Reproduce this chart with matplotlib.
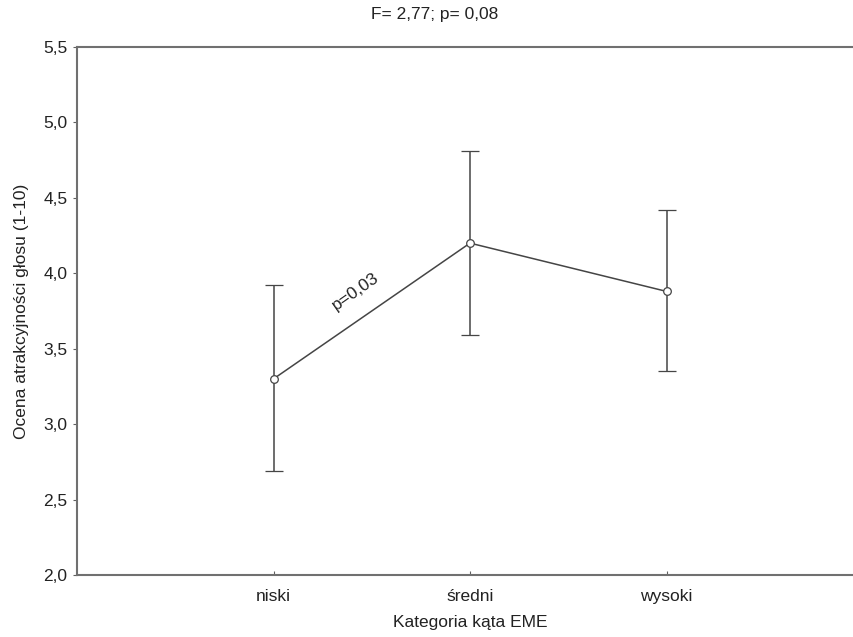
import matplotlib
matplotlib.use("Agg")
import matplotlib.pyplot as plt
import numpy as np

categories = ["niski", "średni", "wysoki"]
means = [3.30, 4.20, 3.88]
upper = [3.92, 4.81, 4.42]
lower = [2.69, 3.59, 3.35]
y_ticks = [2.0, 2.5, 3.0, 3.5, 4.0, 4.5, 5.0, 5.5]

plt.rcParams["font.family"] = ["Liberation Sans", "DejaVu Sans"]

fig = plt.figure(figsize=(8.54, 6.37), dpi=100)
ax = fig.add_axes([77 / 854, 62 / 637, 786 / 854, 528 / 637])

x = np.arange(1, len(categories) + 1)
m = np.array(means)
yerr = [m - np.array(lower), np.array(upper) - m]
ax.errorbar(x, m, yerr=yerr, color="#454545", lw=1.1, elinewidth=1.1,
            capsize=6.5, capthick=1.1, marker="o", ms=5.5, mfc="white",
            mec="#454545", mew=0.9)

ax.set_xlim(0, 4)
ax.set_ylim(2.0, 5.5)
ax.set_xticks(x)
ax.set_xticklabels(categories)
ax.set_yticks(y_ticks)
ax.set_yticklabels([f"{v:.1f}".replace(".", ",") for v in y_ticks])
ax.tick_params(axis="x", direction="in", length=3, color="#606060",
               labelsize=12.5, pad=10, labelcolor="#222222")
ax.tick_params(axis="y", direction="out", length=3, color="#606060",
               labelsize=12.5, pad=4, labelcolor="#222222")
for s in ax.spines.values():
    s.set_color("#707070")
    s.set_linewidth(1.5)
ax.spines["right"].set_visible(False)

ax.set_xlabel("Kategoria kąta EME", fontsize=12.5, color="#222222", labelpad=8)
ax.set_ylabel("Ocena atrakcyjności głosu (1-10)", fontsize=12.5,
              color="#222222", labelpad=10)

ax.text(1.42, 3.88, "p=0,03", rotation=35, fontsize=12.5, color="#222222",
        ha="center", va="center")
fig.text(435 / 854, 1 - 15 / 637, "F= 2,77; p= 0,08", fontsize=12.5,
         color="#222222", ha="center", va="center")

fig.savefig("out.png", dpi=100, facecolor="white")
